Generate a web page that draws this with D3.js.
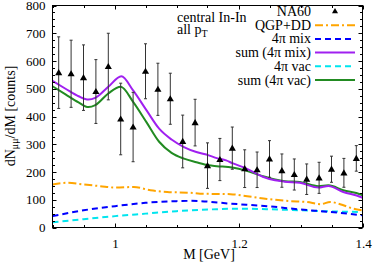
<!DOCTYPE html>
<html><head><meta charset="utf-8">
<script src="https://cdn.jsdelivr.net/npm/d3@7"></script>
<style>
html,body{margin:0;padding:0;background:#fff;}
svg{display:block;}
text{font-family:"Liberation Serif","DejaVu Serif",serif;font-size:14px;fill:#000;}
</style></head>
<body>
<svg id="c" width="373" height="263"></svg>
<script>
// ---- data ----
const dataMass   = [0.91,0.93,0.95,0.97,0.99,1.01,1.03,1.05,1.07,1.09,1.11,1.13,1.15,1.17,1.19,1.21,1.23,1.25,1.27,1.29,1.31,1.33,1.35,1.37,1.39];
const dataCounts = [558,554,540,490,580,391,362,563,498,464,310,378,223,245,286,212,208,247,205,191,174,179,210,197,249];
const dataErr    = [129,121,118,115,120,129,125,99,94,92,95,84,82,76,76,68,64,66,60,56,55,56,47,52,46];

const sumMixM = [0.90,0.921,0.942,0.958,0.969,0.99,1.011,1.03,1.052,1.072,1.092,1.112,1.132,1.152,1.165,1.18,1.19,1.212,1.239,1.259,1.275,1.299,1.329,1.345,1.369,1.397,1.40];
const sumMixY = [528,500,473,461,467,507,545,494,421,356,317,290,272,260,250,242,232,213,183,170,165,161,144,150,128,110,107];

const sumVacM = [0.90,0.921,0.942,0.958,0.969,0.99,1.01,1.03,1.052,1.072,1.092,1.112,1.132,1.152,1.165,1.19,1.212,1.239,1.259,1.275,1.299,1.329,1.345,1.369,1.397,1.40];
const sumVacY = [509,480,451,434,441,483,507,453,378,309,269,248,235,224,221,216,205,185,173,167,164,149,152,134,119,116];

const qgpM = [0.90,0.924,0.95,0.977,1.001,1.031,1.058,1.085,1.122,1.138,1.187,1.214,1.246,1.283,1.31,1.332,1.348,1.364,1.385,1.40];
const qgpY = [155,161,155,149,144,146,134,128,125,122,120,113,103,95,92,84,92,84,68,62];

const mixM = [0.90,0.95,1.001,1.05,1.10,1.122,1.138,1.187,1.246,1.299,1.348,1.40];
const mixY = [41,62,77,89,95,96,95,86,77,65,56,44];

const vacM = [0.90,0.95,1.001,1.05,1.10,1.122,1.165,1.187,1.246,1.299,1.348,1.40];
const vacY = [19,30,41,50,59,62,66,68,66,62,58,56];

const xLabels = [1.0,1.2,1.4];
const yLabels = [0,100,200,300,400,500,600,700,800];

// ---- layout ----
const svg = d3.select("#c");
const L=52.5, R=362.5, T=5.5, B=227.5;
const x = d3.scaleLinear().domain([0.9,1.4]).range([L,R]);
const y = d3.scaleLinear().domain([0,800]).range([B,T]);

const defs = svg.append("defs");
defs.append("clipPath").attr("id","clip").append("rect")
  .attr("x",L).attr("y",T).attr("width",R-L).attr("height",B-T);

const plot = svg.append("g").attr("clip-path","url(#clip)");
const line = d3.line().x(d=>x(d[0])).y(d=>y(d[1])).curve(d3.curveMonotoneX);
const zip = (a,b)=>a.map((v,i)=>[v,b[i]]);

const series = [
  {m:vacM,v:vacY,color:"#00e5ee",dash:"6,4",w:2},
  {m:mixM,v:mixY,color:"#0000ff",dash:"6,4",w:2},
  {m:qgpM,v:qgpY,color:"#ffa500",dash:"8,3,2,3",w:2},
  {m:sumVacM,v:sumVacY,color:"#228b22",dash:null,w:2},
  {m:sumMixM,v:sumMixY,color:"#a020f0",dash:null,w:2},
];
series.forEach(s=>{
  plot.append("path").datum(zip(s.m,s.v)).attr("d",line)
    .attr("fill","none").attr("stroke",s.color).attr("stroke-width",s.w)
    .attr("stroke-dasharray",s.dash);
});

// error bars + triangles
const pts = dataMass.map((m,i)=>({m,c:dataCounts[i],e:dataErr[i]}));
const eb = plot.append("g").attr("stroke","#333").attr("stroke-width",1);
pts.forEach(p=>{
  const xx=x(p.m), y1=y(p.c+p.e), y0=y(p.c-p.e);
  eb.append("line").attr("x1",xx).attr("x2",xx).attr("y1",y1).attr("y2",y0);
  eb.append("line").attr("x1",xx-1.5).attr("x2",xx+1.5).attr("y1",y1).attr("y2",y1);
  eb.append("line").attr("x1",xx-1.5).attr("x2",xx+1.5).attr("y1",y0).attr("y2",y0);
});
const tri = d3.symbol().type(d3.symbolTriangle).size(22);
plot.selectAll("path.pt").data(pts).enter().append("path").attr("class","pt")
  .attr("d",tri).attr("transform",d=>`translate(${x(d.m)},${y(d.c)+0.5})`).attr("fill","#000");

// ---- axes (gnuplot-style inward ticks, mirrored) ----
const ax = svg.append("g").attr("stroke","#000").attr("stroke-width",1);
d3.range(0.9,1.4001,0.05).forEach(t=>{
  const major = Math.abs(Math.round(t*10)/10 - t) < 1e-6 && Math.round(t*10)%2===0;
  const len = major?4:2.5;
  const xx=Math.round(x(t))+0.5;
  ax.append("line").attr("x1",xx).attr("x2",xx).attr("y1",B).attr("y2",B-len);
  ax.append("line").attr("x1",xx).attr("x2",xx).attr("y1",T).attr("y2",T+len);
});
d3.range(0,801,25).forEach(t=>{
  const major = t%100===0;
  const len = major?4:2.5;
  const yy=Math.round(y(t))+0.5;
  ax.append("line").attr("x1",L).attr("x2",L+len).attr("y1",yy).attr("y2",yy);
  ax.append("line").attr("x1",R).attr("x2",R-len).attr("y1",yy).attr("y2",yy);
});
svg.append("rect").attr("x",L).attr("y",T).attr("width",R-L).attr("height",B-T)
  .attr("fill","none").attr("stroke","#000").attr("stroke-width",1);

// tick labels
xLabels.forEach(t=>{
  svg.append("text").attr("x",x(t)+1).attr("y",248).attr("text-anchor","middle")
    .style("font-size","13px").text(d3.format("~g")(t));
});
yLabels.forEach(t=>{
  svg.append("text").attr("x",45.5).attr("y",y(t)+4.5).attr("text-anchor","end")
    .style("font-size","13px").text(t);
});

// axis titles
svg.append("text").attr("x",209).attr("y",259).attr("text-anchor","middle").text("M [GeV]");
const yl = svg.append("text").attr("transform","translate(15,116) rotate(-90)").attr("text-anchor","middle");
yl.append("tspan").text("dN");
yl.append("tspan").attr("dy",3).attr("font-size","10px").text("μμ");
yl.append("tspan").attr("dy",-3).text("/dM [counts]");

// annotation
svg.append("text").attr("x",177).attr("y",21.5).text("central In-In");
const ap = svg.append("text").attr("x",177).attr("y",33.5);
ap.append("tspan").text("all p");
ap.append("tspan").attr("dy",3).attr("font-size","10px").text("T");

// legend
const legItems = [
  {label:"NA60",type:"pt"},
  {label:"QGP+DD",color:"#ffa500",dash:"8,3,2,3"},
  {label:"4π mix",color:"#0000ff",dash:"6,4"},
  {label:"sum (4π mix)",color:"#a020f0",dash:null},
  {label:"4π vac",color:"#00e5ee",dash:"6,4"},
  {label:"sum (4π vac)",color:"#228b22",dash:null},
];
legItems.forEach((d,i)=>{
  const cy = 11.5 + i*13.7;
  svg.append("text").attr("x",311).attr("y",cy+4.5).attr("text-anchor","end").text(d.label);
  if(d.type==="pt"){
    svg.append("path").attr("d",d3.symbol().type(d3.symbolTriangle).size(16))
      .attr("transform",`translate(335,${cy})`).attr("fill","#000");
  } else {
    svg.append("line").attr("x1",315).attr("x2",355).attr("y1",cy).attr("y2",cy)
      .attr("stroke",d.color).attr("stroke-width",2).attr("stroke-dasharray",d.dash);
  }
});
</script>
</body></html>
